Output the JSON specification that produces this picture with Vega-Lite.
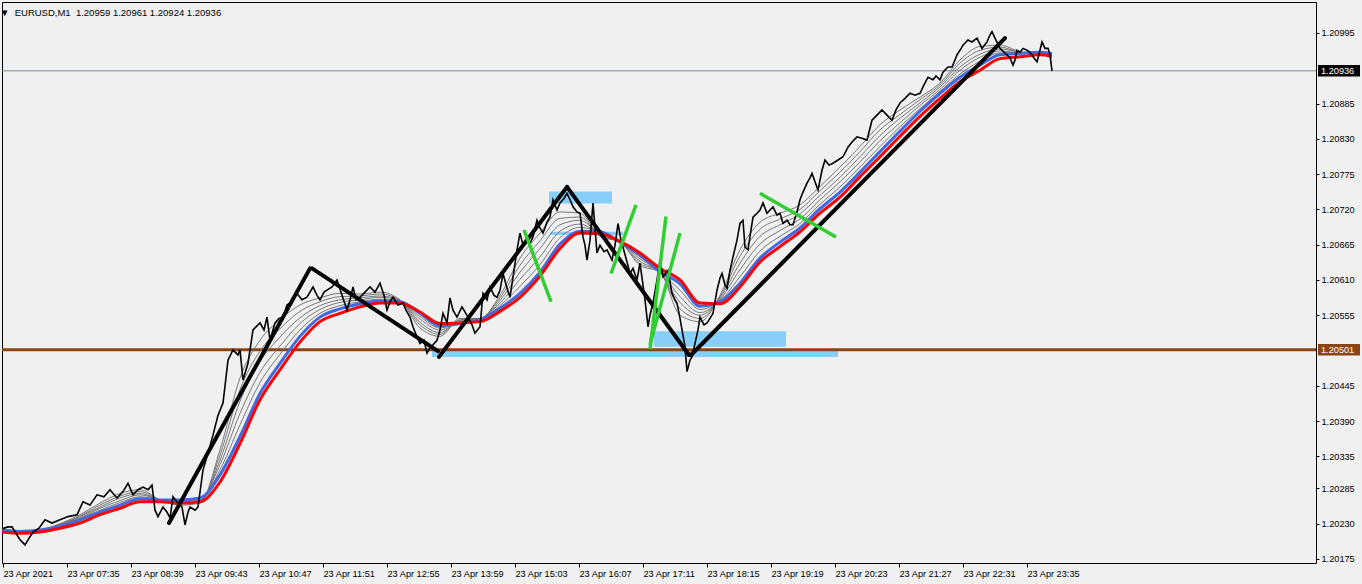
{
"$schema": "https://vega.github.io/schema/vega-lite/v6.json",
"width": 1314, "height": 561,
"autosize": {"type": "none"},
"padding": {"left": 2, "top": 2, "right": 46, "bottom": 21},
"background": "#f0f0f0",
"title": {"text": "▼\u00a0\u00a0EURUSD,M1\u00a0\u00a01.20959 1.20961 1.20924 1.20936", "anchor": "start", "offset": -15, "dx": 4, "fontSize": 9.5, "fontWeight": "normal", "font": "Liberation Sans", "color": "black"},
"config": {"view": {"stroke": "black", "strokeWidth": 1, "fill": "#f0f0f0"},
  "axis": {"grid": false, "domain": false, "tickColor": "black", "labelColor": "black", "labelFont": "Liberation Sans", "labelFontSize": 9.2, "tickSize": 4, "title": null}},
"datasets": {
"close": [
{"t":390,"p":1.20222},{"t":396,"p":1.20225},{"t":400,"p":1.20225},{"t":404,"p":1.20215},{"t":408,"p":1.20205},{"t":413,"p":1.20197},{"t":417,"p":1.20207},{"t":421,"p":1.20217},{"t":427,"p":1.20223},{"t":433,"p":1.20236},{"t":440,"p":1.20231},{"t":448,"p":1.20236},{"t":456,"p":1.20241},{"t":465,"p":1.20244},{"t":471,"p":1.20264},{"t":478,"p":1.20259},{"t":485,"p":1.20275},{"t":492,"p":1.20272},{"t":498,"p":1.20283},{"t":505,"p":1.20270},{"t":511,"p":1.20280},{"t":516,"p":1.20293},{"t":521,"p":1.20275},{"t":526,"p":1.20283},{"t":531,"p":1.20287},{"t":536,"p":1.20283},{"t":540,"p":1.20290},{"t":543,"p":1.20251},{"t":546,"p":1.20241},{"t":551,"p":1.20256},{"t":555,"p":1.20248},{"t":558,"p":1.20239},{"t":561,"p":1.20272},{"t":566,"p":1.20262},{"t":570,"p":1.20256},{"t":573,"p":1.20228},{"t":576,"p":1.20248},{"t":578,"p":1.20256},{"t":583,"p":1.20251},{"t":586,"p":1.20256},{"t":591,"p":1.20314},{"t":596,"p":1.20340},{"t":601,"p":1.20368},{"t":606,"p":1.20399},{"t":611,"p":1.20418},{"t":616,"p":1.20485},{"t":621,"p":1.20501},{"t":626,"p":1.20493},{"t":628,"p":1.20501},{"t":631,"p":1.20454},{"t":636,"p":1.20480},{"t":641,"p":1.20532},{"t":648,"p":1.20543},{"t":652,"p":1.20532},{"t":655,"p":1.20552},{"t":658,"p":1.20516},{"t":663,"p":1.20543},{"t":667,"p":1.20550},{"t":671,"p":1.20552},{"t":675,"p":1.20571},{"t":678,"p":1.20574},{"t":681,"p":1.20582},{"t":685,"p":1.20589},{"t":690,"p":1.20579},{"t":695,"p":1.20583},{"t":701,"p":1.20599},{"t":705,"p":1.20586},{"t":708,"p":1.20579},{"t":712,"p":1.20591},{"t":715,"p":1.20594},{"t":720,"p":1.20599},{"t":725,"p":1.20610},{"t":730,"p":1.20586},{"t":735,"p":1.20563},{"t":738,"p":1.20579},{"t":741,"p":1.20599},{"t":744,"p":1.20579},{"t":748,"p":1.20583},{"t":753,"p":1.20591},{"t":758,"p":1.20599},{"t":763,"p":1.20591},{"t":768,"p":1.20605},{"t":772,"p":1.20586},{"t":775,"p":1.20563},{"t":778,"p":1.20576},{"t":781,"p":1.20583},{"t":786,"p":1.20571},{"t":791,"p":1.20574},{"t":794,"p":1.20563},{"t":798,"p":1.20552},{"t":801,"p":1.20537},{"t":805,"p":1.20521},{"t":808,"p":1.20511},{"t":812,"p":1.20516},{"t":815,"p":1.20496},{"t":818,"p":1.20504},{"t":821,"p":1.20509},{"t":825,"p":1.20516},{"t":828,"p":1.20532},{"t":831,"p":1.20558},{"t":835,"p":1.20543},{"t":838,"p":1.20582},{"t":841,"p":1.20563},{"t":845,"p":1.20552},{"t":850,"p":1.20568},{"t":853,"p":1.20560},{"t":856,"p":1.20552},{"t":860,"p":1.20540},{"t":863,"p":1.20527},{"t":868,"p":1.20537},{"t":871,"p":1.20589},{"t":875,"p":1.20579},{"t":878,"p":1.20599},{"t":882,"p":1.20586},{"t":885,"p":1.20583},{"t":888,"p":1.20594},{"t":891,"p":1.20620},{"t":895,"p":1.20597},{"t":898,"p":1.20583},{"t":902,"p":1.20625},{"t":905,"p":1.20657},{"t":908,"p":1.20683},{"t":911,"p":1.20664},{"t":915,"p":1.20672},{"t":918,"p":1.20667},{"t":921,"p":1.20677},{"t":925,"p":1.20703},{"t":928,"p":1.20691},{"t":931,"p":1.20683},{"t":935,"p":1.20700},{"t":938,"p":1.20708},{"t":941,"p":1.20735},{"t":945,"p":1.20719},{"t":948,"p":1.20730},{"t":952,"p":1.20737},{"t":955,"p":1.20745},{"t":958,"p":1.20735},{"t":961,"p":1.20724},{"t":965,"p":1.20716},{"t":968,"p":1.20714},{"t":971,"p":1.20677},{"t":973,"p":1.20664},{"t":975,"p":1.20641},{"t":978,"p":1.20672},{"t":981,"p":1.20730},{"t":985,"p":1.20652},{"t":988,"p":1.20664},{"t":992,"p":1.20654},{"t":995,"p":1.20657},{"t":1000,"p":1.20641},{"t":1003,"p":1.20664},{"t":1006,"p":1.20698},{"t":1009,"p":1.20672},{"t":1011,"p":1.20661},{"t":1015,"p":1.20638},{"t":1018,"p":1.20620},{"t":1021,"p":1.20628},{"t":1025,"p":1.20610},{"t":1028,"p":1.20636},{"t":1031,"p":1.20602},{"t":1033,"p":1.20579},{"t":1036,"p":1.20537},{"t":1038,"p":1.20555},{"t":1041,"p":1.20574},{"t":1045,"p":1.20610},{"t":1048,"p":1.20641},{"t":1051,"p":1.20615},{"t":1056,"p":1.20625},{"t":1060,"p":1.20589},{"t":1063,"p":1.20579},{"t":1065,"p":1.20574},{"t":1068,"p":1.20550},{"t":1070,"p":1.20532},{"t":1073,"p":1.20506},{"t":1075,"p":1.20467},{"t":1078,"p":1.20485},{"t":1080,"p":1.20490},{"t":1083,"p":1.20511},{"t":1086,"p":1.20532},{"t":1088,"p":1.20552},{"t":1092,"p":1.20540},{"t":1095,"p":1.20543},{"t":1098,"p":1.20550},{"t":1101,"p":1.20558},{"t":1105,"p":1.20594},{"t":1108,"p":1.20613},{"t":1110,"p":1.20620},{"t":1113,"p":1.20602},{"t":1115,"p":1.20597},{"t":1118,"p":1.20625},{"t":1121,"p":1.20646},{"t":1125,"p":1.20672},{"t":1128,"p":1.20698},{"t":1131,"p":1.20703},{"t":1133,"p":1.20661},{"t":1136,"p":1.20657},{"t":1139,"p":1.20688},{"t":1141,"p":1.20708},{"t":1145,"p":1.20714},{"t":1148,"p":1.20719},{"t":1151,"p":1.20730},{"t":1155,"p":1.20714},{"t":1158,"p":1.20719},{"t":1161,"p":1.20724},{"t":1165,"p":1.20711},{"t":1168,"p":1.20714},{"t":1171,"p":1.20698},{"t":1175,"p":1.20703},{"t":1178,"p":1.20696},{"t":1181,"p":1.20696},{"t":1185,"p":1.20716},{"t":1188,"p":1.20735},{"t":1191,"p":1.20747},{"t":1195,"p":1.20761},{"t":1198,"p":1.20769},{"t":1200,"p":1.20776},{"t":1203,"p":1.20763},{"t":1206,"p":1.20750},{"t":1210,"p":1.20781},{"t":1213,"p":1.20797},{"t":1217,"p":1.20789},{"t":1221,"p":1.20792},{"t":1226,"p":1.20797},{"t":1231,"p":1.20802},{"t":1236,"p":1.20817},{"t":1240,"p":1.20825},{"t":1245,"p":1.20833},{"t":1250,"p":1.20831},{"t":1255,"p":1.20828},{"t":1260,"p":1.20859},{"t":1265,"p":1.20867},{"t":1270,"p":1.20875},{"t":1275,"p":1.20867},{"t":1280,"p":1.20859},{"t":1284,"p":1.20875},{"t":1288,"p":1.20886},{"t":1293,"p":1.20893},{"t":1298,"p":1.20901},{"t":1303,"p":1.20898},{"t":1308,"p":1.20901},{"t":1312,"p":1.20914},{"t":1316,"p":1.20926},{"t":1321,"p":1.20922},{"t":1324,"p":1.20928},{"t":1328,"p":1.20922},{"t":1331,"p":1.20934},{"t":1336,"p":1.20942},{"t":1340,"p":1.20942},{"t":1343,"p":1.20953},{"t":1345,"p":1.20961},{"t":1348,"p":1.20968},{"t":1351,"p":1.20976},{"t":1356,"p":1.20984},{"t":1360,"p":1.20981},{"t":1365,"p":1.20987},{"t":1370,"p":1.20971},{"t":1375,"p":1.20981},{"t":1378,"p":1.20992},{"t":1380,"p":1.20997},{"t":1383,"p":1.20987},{"t":1388,"p":1.20971},{"t":1392,"p":1.20965},{"t":1395,"p":1.20961},{"t":1398,"p":1.20956},{"t":1401,"p":1.20945},{"t":1403,"p":1.20953},{"t":1405,"p":1.20968},{"t":1408,"p":1.20965},{"t":1411,"p":1.20971},{"t":1415,"p":1.20968},{"t":1418,"p":1.20965},{"t":1422,"p":1.20956},{"t":1425,"p":1.20950},{"t":1428,"p":1.20968},{"t":1430,"p":1.20981},{"t":1433,"p":1.20971},{"t":1436,"p":1.20971},{"t":1438,"p":1.20961},{"t":1440,"p":1.20936}
],
"ma": [
{"t":390,"red":1.20217,"blue":1.20220,"g1":1.20223,"g2":1.20222,"g3":1.20222,"g4":1.20221,"g5":1.20221},
{"t":408,"red":1.20215,"blue":1.20218,"g1":1.20217,"g2":1.20217,"g3":1.20217,"g4":1.20218,"g5":1.20218},
{"t":428,"red":1.20217,"blue":1.20220,"g1":1.20220,"g2":1.20220,"g3":1.20220,"g4":1.20220,"g5":1.20220},
{"t":448,"red":1.20223,"blue":1.20226,"g1":1.20230,"g2":1.20229,"g3":1.20228,"g4":1.20228,"g5":1.20227},
{"t":468,"red":1.20231,"blue":1.20236,"g1":1.20244,"g2":1.20242,"g3":1.20241,"g4":1.20239,"g5":1.20238},
{"t":488,"red":1.20244,"blue":1.20248,"g1":1.20262,"g2":1.20259,"g3":1.20256,"g4":1.20254,"g5":1.20251},
{"t":508,"red":1.20254,"blue":1.20259,"g1":1.20277,"g2":1.20273,"g3":1.20270,"g4":1.20266,"g5":1.20263},
{"t":528,"red":1.20264,"blue":1.20269,"g1":1.20283,"g2":1.20280,"g3":1.20277,"g4":1.20275,"g5":1.20272},
{"t":548,"red":1.20264,"blue":1.20267,"g1":1.20267,"g2":1.20267,"g3":1.20267,"g4":1.20267,"g5":1.20267},
{"t":568,"red":1.20262,"blue":1.20267,"g1":1.20259,"g2":1.20261,"g3":1.20262,"g4":1.20264,"g5":1.20265},
{"t":588,"red":1.20264,"blue":1.20270,"g1":1.20262,"g2":1.20264,"g3":1.20265,"g4":1.20267,"g5":1.20268},
{"t":608,"red":1.20295,"blue":1.20306,"g1":1.20345,"g2":1.20337,"g3":1.20329,"g4":1.20322,"g5":1.20314},
{"t":628,"red":1.20355,"blue":1.20366,"g1":1.20457,"g2":1.20439,"g3":1.20421,"g4":1.20402,"g5":1.20384},
{"t":648,"red":1.20423,"blue":1.20433,"g1":1.20516,"g2":1.20499,"g3":1.20483,"g4":1.20466,"g5":1.20450},
{"t":668,"red":1.20470,"blue":1.20480,"g1":1.20548,"g2":1.20534,"g3":1.20521,"g4":1.20507,"g5":1.20494},
{"t":688,"red":1.20513,"blue":1.20522,"g1":1.20571,"g2":1.20561,"g3":1.20551,"g4":1.20542,"g5":1.20532},
{"t":708,"red":1.20545,"blue":1.20552,"g1":1.20582,"g2":1.20576,"g3":1.20570,"g4":1.20564,"g5":1.20558},
{"t":728,"red":1.20558,"blue":1.20565,"g1":1.20589,"g2":1.20584,"g3":1.20579,"g4":1.20575,"g5":1.20570},
{"t":748,"red":1.20568,"blue":1.20573,"g1":1.20588,"g2":1.20585,"g3":1.20582,"g4":1.20579,"g5":1.20576},
{"t":768,"red":1.20574,"blue":1.20577,"g1":1.20591,"g2":1.20588,"g3":1.20585,"g4":1.20583,"g5":1.20580},
{"t":788,"red":1.20574,"blue":1.20576,"g1":1.20579,"g2":1.20578,"g3":1.20578,"g4":1.20577,"g5":1.20576},
{"t":808,"red":1.20560,"blue":1.20558,"g1":1.20535,"g2":1.20540,"g3":1.20544,"g4":1.20549,"g5":1.20553},
{"t":828,"red":1.20542,"blue":1.20538,"g1":1.20522,"g2":1.20525,"g3":1.20528,"g4":1.20532,"g5":1.20535},
{"t":848,"red":1.20543,"blue":1.20542,"g1":1.20550,"g2":1.20548,"g3":1.20547,"g4":1.20545,"g5":1.20544},
{"t":868,"red":1.20545,"blue":1.20548,"g1":1.20550,"g2":1.20550,"g3":1.20549,"g4":1.20549,"g5":1.20548},
{"t":888,"red":1.20561,"blue":1.20566,"g1":1.20586,"g2":1.20582,"g3":1.20578,"g4":1.20574,"g5":1.20570},
{"t":908,"red":1.20583,"blue":1.20589,"g1":1.20644,"g2":1.20633,"g3":1.20622,"g4":1.20611,"g5":1.20600},
{"t":928,"red":1.20616,"blue":1.20622,"g1":1.20683,"g2":1.20671,"g3":1.20659,"g4":1.20646,"g5":1.20634},
{"t":948,"red":1.20659,"blue":1.20666,"g1":1.20716,"g2":1.20706,"g3":1.20696,"g4":1.20686,"g5":1.20676},
{"t":968,"red":1.20683,"blue":1.20686,"g1":1.20714,"g2":1.20708,"g3":1.20703,"g4":1.20697,"g5":1.20692},
{"t":988,"red":1.20682,"blue":1.20685,"g1":1.20678,"g2":1.20679,"g3":1.20681,"g4":1.20682,"g5":1.20684},
{"t":1008,"red":1.20670,"blue":1.20669,"g1":1.20669,"g2":1.20669,"g3":1.20669,"g4":1.20669,"g5":1.20669},
{"t":1028,"red":1.20652,"blue":1.20649,"g1":1.20633,"g2":1.20636,"g3":1.20639,"g4":1.20643,"g5":1.20646},
{"t":1048,"red":1.20628,"blue":1.20623,"g1":1.20622,"g2":1.20622,"g3":1.20622,"g4":1.20623,"g5":1.20623},
{"t":1068,"red":1.20610,"blue":1.20604,"g1":1.20555,"g2":1.20565,"g3":1.20575,"g4":1.20584,"g5":1.20594},
{"t":1088,"red":1.20574,"blue":1.20569,"g1":1.20545,"g2":1.20550,"g3":1.20555,"g4":1.20559,"g5":1.20564},
{"t":1108,"red":1.20573,"blue":1.20576,"g1":1.20586,"g2":1.20584,"g3":1.20582,"g4":1.20580,"g5":1.20578},
{"t":1128,"red":1.20599,"blue":1.20605,"g1":1.20657,"g2":1.20647,"g3":1.20636,"g4":1.20626,"g5":1.20615},
{"t":1148,"red":1.20638,"blue":1.20644,"g1":1.20700,"g2":1.20689,"g3":1.20678,"g4":1.20666,"g5":1.20655},
{"t":1168,"red":1.20662,"blue":1.20669,"g1":1.20714,"g2":1.20705,"g3":1.20696,"g4":1.20687,"g5":1.20678},
{"t":1188,"red":1.20685,"blue":1.20691,"g1":1.20727,"g2":1.20720,"g3":1.20713,"g4":1.20705,"g5":1.20698},
{"t":1208,"red":1.20714,"blue":1.20721,"g1":1.20756,"g2":1.20749,"g3":1.20742,"g4":1.20735,"g5":1.20728},
{"t":1228,"red":1.20739,"blue":1.20747,"g1":1.20786,"g2":1.20778,"g3":1.20770,"g4":1.20763,"g5":1.20755},
{"t":1248,"red":1.20771,"blue":1.20778,"g1":1.20818,"g2":1.20810,"g3":1.20802,"g4":1.20794,"g5":1.20786},
{"t":1268,"red":1.20802,"blue":1.20810,"g1":1.20852,"g2":1.20844,"g3":1.20835,"g4":1.20827,"g5":1.20818},
{"t":1288,"red":1.20834,"blue":1.20842,"g1":1.20875,"g2":1.20868,"g3":1.20862,"g4":1.20855,"g5":1.20849},
{"t":1308,"red":1.20865,"blue":1.20873,"g1":1.20895,"g2":1.20891,"g3":1.20886,"g4":1.20882,"g5":1.20877},
{"t":1328,"red":1.20893,"blue":1.20901,"g1":1.20917,"g2":1.20914,"g3":1.20911,"g4":1.20907,"g5":1.20904},
{"t":1348,"red":1.20919,"blue":1.20926,"g1":1.20953,"g2":1.20948,"g3":1.20942,"g4":1.20937,"g5":1.20931},
{"t":1368,"red":1.20937,"blue":1.20945,"g1":1.20974,"g2":1.20968,"g3":1.20962,"g4":1.20957,"g5":1.20951},
{"t":1388,"red":1.20955,"blue":1.20961,"g1":1.20976,"g2":1.20973,"g3":1.20970,"g4":1.20967,"g5":1.20964},
{"t":1408,"red":1.20958,"blue":1.20963,"g1":1.20966,"g2":1.20965,"g3":1.20965,"g4":1.20964,"g5":1.20964},
{"t":1428,"red":1.20961,"blue":1.20965,"g1":1.20962,"g2":1.20963,"g3":1.20963,"g4":1.20964,"g5":1.20964},
{"t":1440,"red":1.20959,"blue":1.20963,"g1":1.20956,"g2":1.20957,"g3":1.20959,"g4":1.20960,"g5":1.20962}
],
"zones": [
{"t":937,"t2":1000,"p":1.20729,"p2":1.20748},
{"t":938,"t2":1011,"p":1.20680,"p2":1.20685},
{"t":1042,"t2":1174,"p":1.20506,"p2":1.20530},
{"t":820,"t2":1226,"p":1.20490,"p2":1.20501}
],
"levels": [
{"kind":"support","t":390,"t2":1704,"p":1.20501},
{"kind":"bid","t":390,"t2":1704,"p":1.20936}
],
"trend": [
{"kind":"black","t":557,"p":1.20231,"t2":698,"p2":1.20628},
{"kind":"black","t":700,"p":1.20628,"t2":826,"p2":1.20499},
{"kind":"black","t":827,"p":1.20490,"t2":955,"p2":1.20755},
{"kind":"black","t":955,"p":1.20755,"t2":1077,"p2":1.20493},
{"kind":"black","t":1079,"p":1.20493,"t2":1393,"p2":1.20987},
{"kind":"green","t":912,"p":1.20688,"t2":939,"p2":1.20576},
{"kind":"green","t":1024,"p":1.20727,"t2":999,"p2":1.20620},
{"kind":"green","t":1054,"p":1.20709,"t2":1038,"p2":1.20502},
{"kind":"green","t":1068,"p":1.20683,"t2":1038,"p2":1.20509},
{"kind":"green","t":1148,"p":1.20745,"t2":1224,"p2":1.20677}
],
"tags": [
{"t":1706,"t2":1748,"p":1.20927,"p2":1.20945,"pm":1.20936,"label":"1.20936","bg":"#000000"},
{"t":1706,"t2":1748,"p":1.20492,"p2":1.20510,"pm":1.20501,"label":"1.20501","bg":"#8B4513"}
]
},
"encoding": {
  "x": {"field": "t", "type": "quantitative", "scale": {"domain": [390, 1704], "nice": false, "zero": false},
    "axis": {"values": [391,455,519,583,647,711,775,839,903,967,1031,1095,1159,1223,1287,1351,1415],
      "labelExpr": "datum.value == 391 ? '23 Apr 2021' : '23 Apr ' + (floor(datum.value/60) < 10 ? '0' : '') + floor(datum.value/60) + ':' + (datum.value % 60 < 10 ? '0' : '') + (datum.value % 60)",
      "labelAlign": "left", "labelPadding": 2, "labelOverlap": false, "labelFlush": false, "labelBound": false}},
  "y": {"field": "p", "type": "quantitative", "scale": {"domain": [1.201687, 1.210433], "nice": false, "zero": false},
    "axis": {"orient": "right", "values": [1.20175,1.20230,1.20285,1.20335,1.20390,1.20445,1.20555,1.20610,1.20665,1.20720,1.20775,1.20830,1.20885,1.20995],
      "format": ".5f", "labelPadding": 2, "tickSize": 3, "labelOverlap": false, "labelBaseline": "middle"}}
},
"layer": [
  {"data": {"name": "zones"}, "mark": {"type": "rect", "color": "#87CEFA"},
   "encoding": {"x2": {"field": "t2"}, "y2": {"field": "p2"}}},
  {"data": {"name": "levels"}, "transform": [{"filter": "datum.kind == 'support'"}],
   "mark": {"type": "rule", "color": "#8B4513", "strokeWidth": 3}, "encoding": {"x2": {"field": "t2"}}},
  {"data": {"name": "levels"}, "transform": [{"filter": "datum.kind == 'bid'"}],
   "mark": {"type": "rule", "color": "#778899", "strokeWidth": 1}, "encoding": {"x2": {"field": "t2"}}},
  {"data": {"name": "ma"}, "transform": [{"fold": ["g1","g2","g3","g4","g5"], "as": ["s","p"]}],
   "mark": {"type": "line", "color": "#6a6a6a", "strokeWidth": 0.9, "interpolate": "monotone"},
   "encoding": {"detail": {"field": "s"}}},
  {"data": {"name": "ma"}, "mark": {"type": "line", "color": "#4169E1", "strokeWidth": 3, "interpolate": "monotone"},
   "encoding": {"y": {"field": "blue", "type": "quantitative"}}},
  {"data": {"name": "ma"}, "mark": {"type": "line", "color": "#FF0000", "strokeWidth": 3, "interpolate": "monotone"},
   "encoding": {"y": {"field": "red", "type": "quantitative"}}},
  {"data": {"name": "close"}, "mark": {"type": "line", "color": "#000000", "strokeWidth": 1.6}},
  {"data": {"name": "trend"}, "transform": [{"filter": "datum.kind == 'black'"}],
   "mark": {"type": "rule", "color": "#000000", "strokeWidth": 4, "strokeCap": "round"},
   "encoding": {"x2": {"field": "t2"}, "y2": {"field": "p2"}}},
  {"data": {"name": "trend"}, "transform": [{"filter": "datum.kind == 'green'"}],
   "mark": {"type": "rule", "color": "#32CD32", "strokeWidth": 3.5},
   "encoding": {"x2": {"field": "t2"}, "y2": {"field": "p2"}}},
  {"data": {"name": "tags"}, "mark": {"type": "rect", "clip": false},
   "encoding": {"x2": {"field": "t2"}, "y2": {"field": "p2"}, "color": {"field": "bg", "type": "nominal", "scale": null}}},
  {"data": {"name": "tags"}, "mark": {"type": "text", "align": "left", "baseline": "middle", "dx": 3, "color": "white", "font": "Liberation Sans", "fontSize": 9.2, "clip": false},
   "encoding": {"y": {"field": "pm", "type": "quantitative"}, "text": {"field": "label"}}}
]
}
